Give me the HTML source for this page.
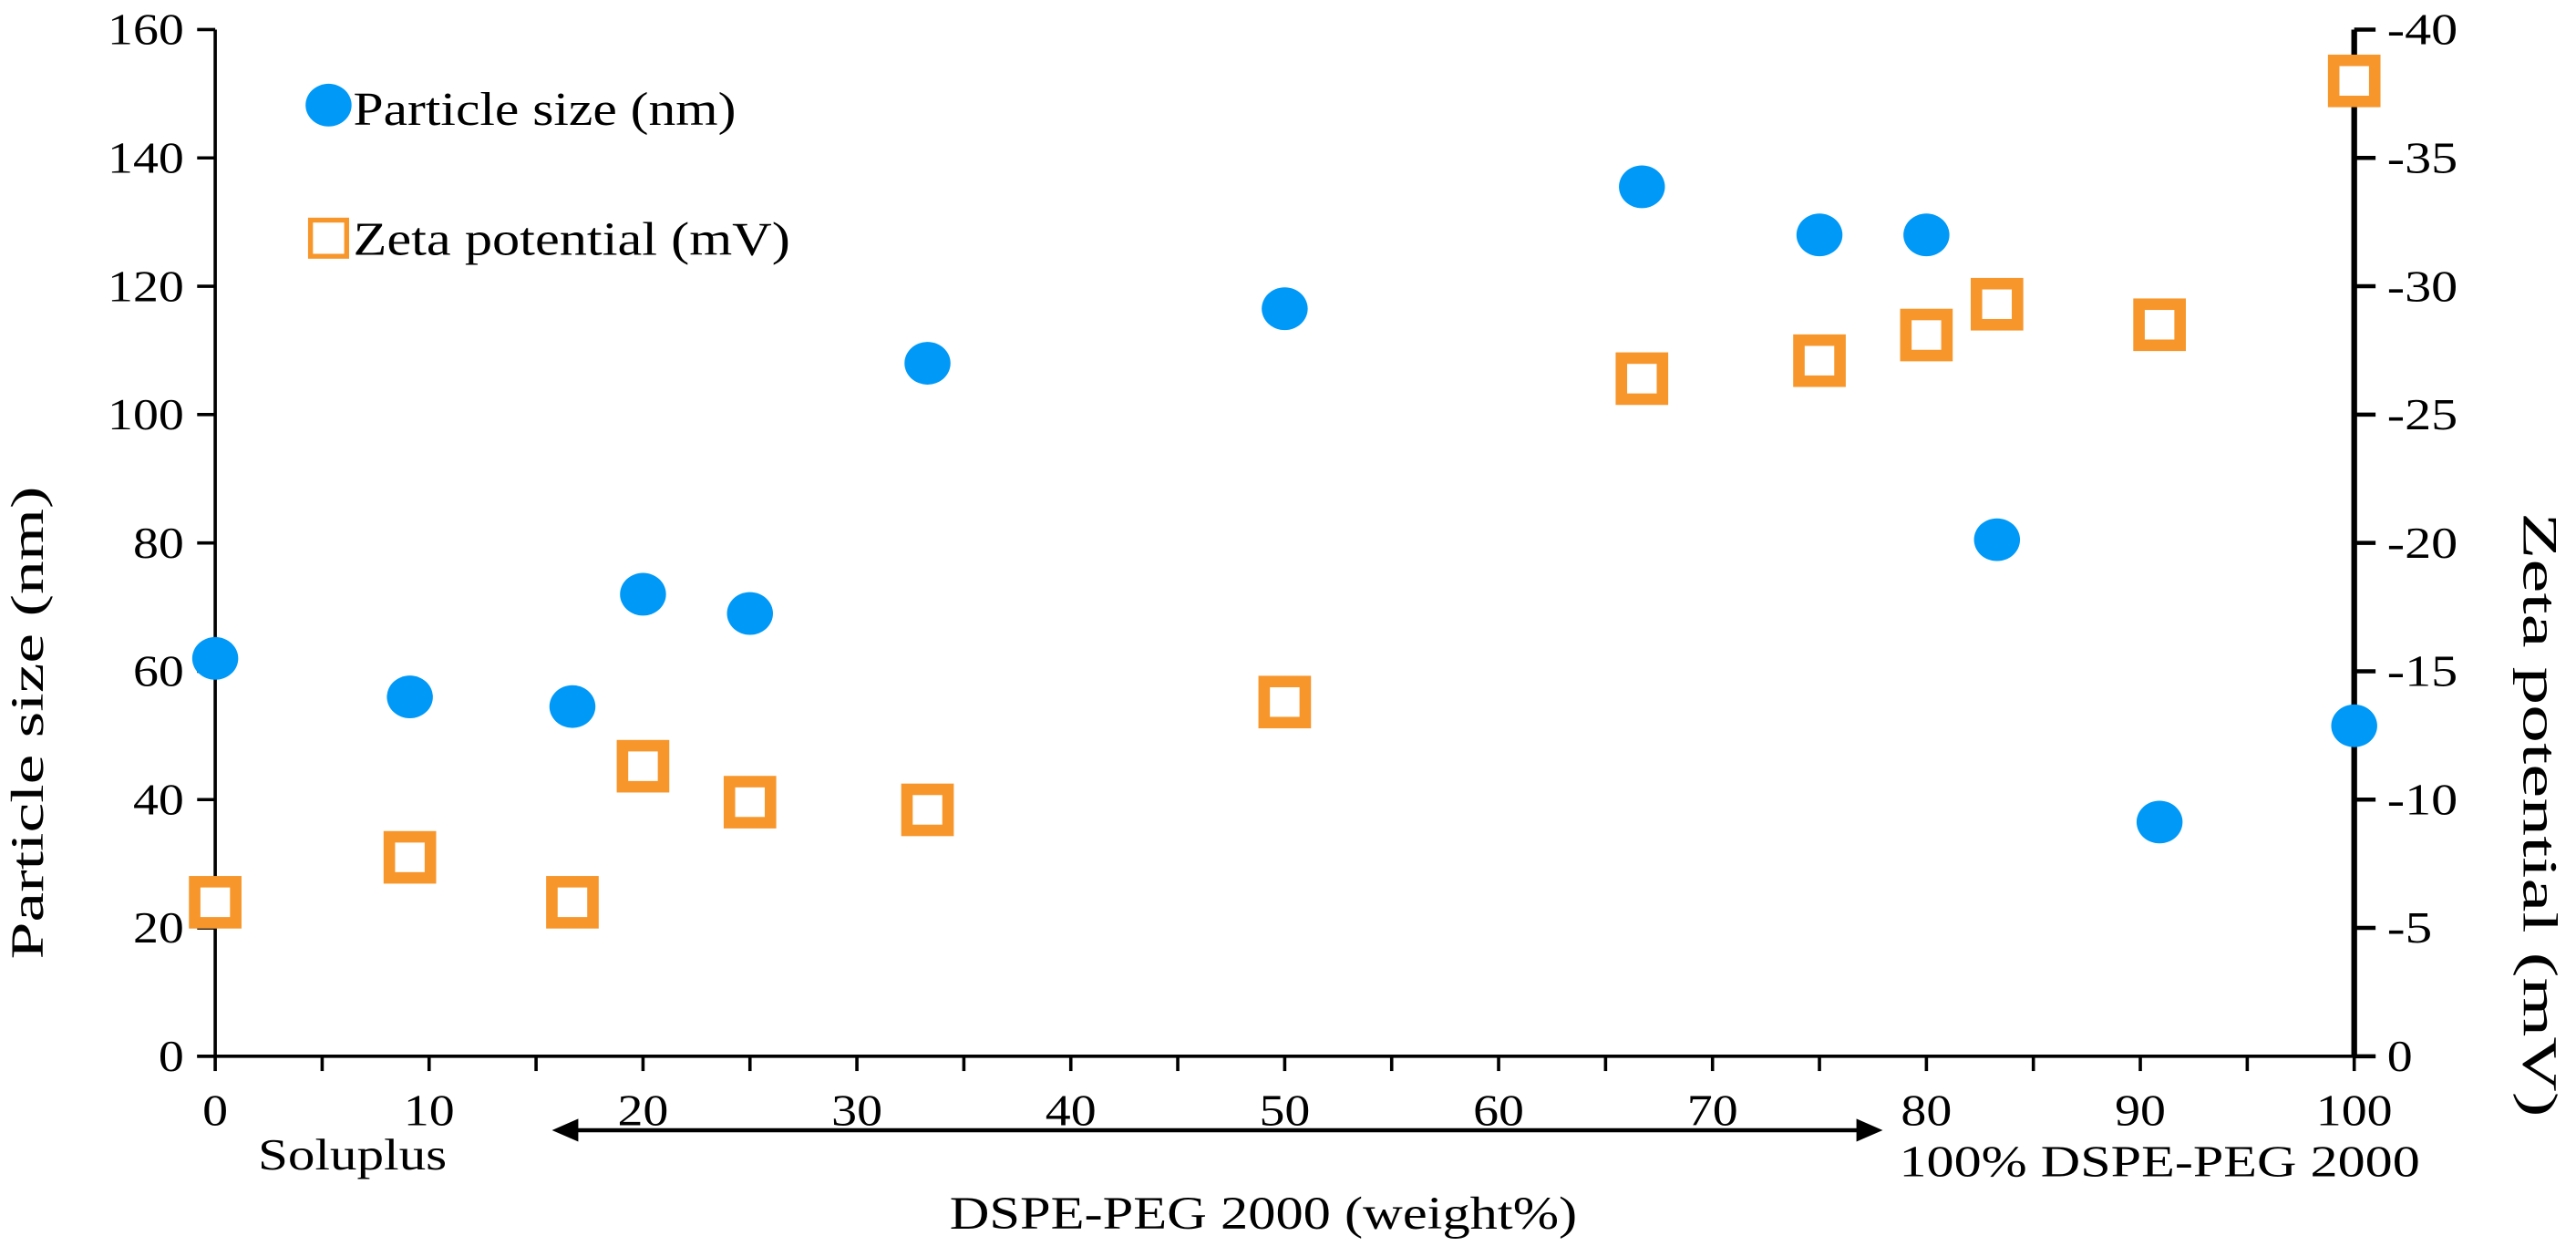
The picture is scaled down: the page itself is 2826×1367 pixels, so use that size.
<!DOCTYPE html>
<html><head><meta charset="utf-8"><style>
html,body{margin:0;padding:0;background:#fff;overflow:hidden}
svg{display:block}
text{font-family:"Liberation Serif",serif;fill:#000}
</style></head><body>
<svg id="chart" width="2826" height="1367" viewBox="0 0 1568 758.5" preserveAspectRatio="none" xmlns="http://www.w3.org/2000/svg"></svg>
<script>
const xValues = [0, 9.1, 16.7, 20, 25, 33.3, 50, 66.7, 75, 80, 83.3, 90.9, 100];
const particleSize = [62, 56, 54.5, 72, 69, 108, 116.5, 135.5, 128, 128, 80.5, 36.5, 51.5];
const zetaPotential = [-6, -7.75, -6, -11.3, -9.9, -9.6, -13.8, -26.4, -27.1, -28.1, -29.3, -28.5, -38];
const xTickLabels = ["0","10","20","30","40","50","60","70","80","90","100"];
const leftTickLabels = ["0","20","40","60","80","100","120","140","160"];
const rightTickLabels = ["0","-5","-10","-15","-20","-25","-30","-35","-40"];

const svg = document.getElementById('chart');
const NS = 'http://www.w3.org/2000/svg';
const L = 131, R = 1433, T = 18, B = 643;
const xs = v => L + (v / 100) * (R - L);
const yl = v => B - (v / 160) * (B - T);
const yr = v => B - (-v / 40) * (B - T);
const BLUE = '#0099F7', ORANGE = '#F7962B';

function mk(tag, attrs, parent) {
  const e = document.createElementNS(NS, tag);
  for (const k in attrs) e.setAttribute(k, attrs[k]);
  (parent || svg).appendChild(e);
  return e;
}
function txt(s, attrs, len) {
  const e = mk('text', attrs);
  e.textContent = s;
  if (len) { e.setAttribute('textLength', len); e.setAttribute('lengthAdjust', 'spacingAndGlyphs'); }
  return e;
}
const numLen = s => s.replace('-', '').length * 15.5 + (s.includes('-') ? 12 : 0);

let e = mk('line', {x1: L, y1: T, x2: L, y2: B, stroke: '#000', 'stroke-width': 2});


e = mk('line', {x1: R, y1: T, x2: R, y2: B, stroke: '#000', 'stroke-width': 3.5});


e = mk('line', {x1: L - 11, y1: B, x2: R + 13, y2: B, stroke: '#000', 'stroke-width': 2});



for (let v = 0; v <= 100; v += 5) {
  e = mk('line', {x1: xs(v), y1: B, x2: xs(v), y2: B + 9, stroke: '#000', 'stroke-width': 2});
  
  
}
xTickLabels.forEach((s, i) => {
  e = txt(s, {x: xs(i * 10), y: 685, 'font-size': 27, 'text-anchor': 'middle'}, numLen(s));
  
  
});
leftTickLabels.forEach((s, i) => {
  const y = yl(i * 20);
  e = mk('line', {x1: L - 11, y1: y, x2: L, y2: y, stroke: '#000', 'stroke-width': 2});
  
  
  e = txt(s, {x: 112, y: y + 9, 'font-size': 27, 'text-anchor': 'end'}, numLen(s));
  
  
});
rightTickLabels.forEach((s, i) => {
  const y = yr(-i * 5);
  e = mk('line', {x1: R, y1: y, x2: R + 13, y2: y, stroke: '#000', 'stroke-width': 2.5});
  
  
  e = txt(s, {x: 1453, y: y + 9, 'font-size': 27, 'text-anchor': 'start'}, numLen(s));
  
  
});

zetaPotential.forEach((v, i) => {
  e = mk('rect', {x: xs(xValues[i]) - 12.5, y: yr(v) - 12.5, width: 25, height: 25, fill: '#fff', stroke: ORANGE, 'stroke-width': 7});
  
  
});
particleSize.forEach((v, i) => {
  e = mk('ellipse', {cx: xs(xValues[i]), cy: yl(v), rx: 14, ry: 13, fill: BLUE});
  
  
});

e = mk('ellipse', {cx: 200, cy: 64, rx: 14, ry: 13, fill: BLUE});


e = txt('Particle size (nm)', {x: 215, y: 76, 'font-size': 29}, 233);


e = mk('rect', {x: 189, y: 134, width: 22, height: 22, fill: '#fff', stroke: ORANGE, 'stroke-width': 3});


e = txt('Zeta potential (mV)', {x: 215, y: 155, 'font-size': 29}, 266);



e = txt('Particle size (nm)', {x: 0, y: 0, 'font-size': 28, 'text-anchor': 'middle', transform: 'translate(26,440) rotate(-90)'}, 288);


e = txt('Zeta potential (mV)', {x: 0, y: 0, 'font-size': 30, 'text-anchor': 'middle', transform: 'translate(1536,496) rotate(90)'}, 368);



e = txt('Soluplus', {x: 157, y: 712, 'font-size': 27}, 115);


e = mk('line', {x1: 350, y1: 688, x2: 1132, y2: 688, stroke: '#000', 'stroke-width': 2.5});


e = mk('polygon', {points: '336,688 352,681 352,695', fill: '#000'});


e = mk('polygon', {points: '1146,688 1130,681 1130,695', fill: '#000'});


e = txt('100% DSPE-PEG 2000', {x: 1156, y: 716, 'font-size': 27}, 317);


e = txt('DSPE-PEG 2000 (weight%)', {x: 578, y: 748, 'font-size': 28}, 382);


</script>
</body></html>
